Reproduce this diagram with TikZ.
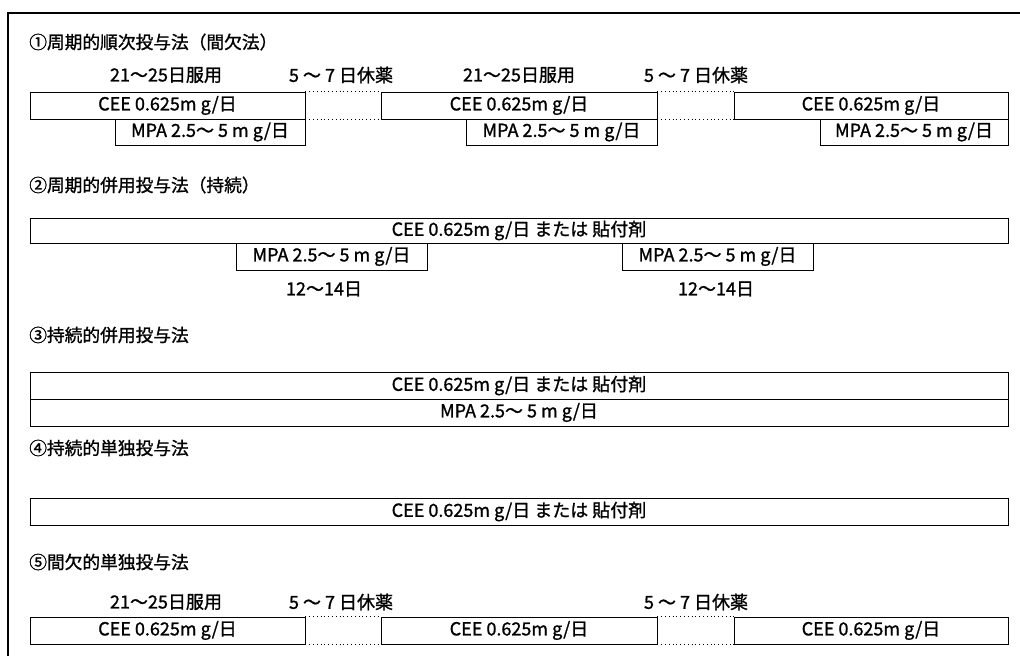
\documentclass[tikz,border=0pt]{standalone}
\usepackage{fontspec}
\setmainfont{Noto Sans CJK JP}[FakeBold=1.2]
\def\u{0.025cm}
\tikzset{
  box/.style={draw, line width=0.7pt, inner sep=0pt, font=\fontsize{12.8}{14}\selectfont},
  lbl/.style={inner sep=0pt, font=\fontsize{12.8}{14}\selectfont},
  ttl/.style={inner sep=0pt, anchor=west, font=\fontsize{12.6}{14}\selectfont},
  gap/.style={dotted, line width=0.7pt},
  frame/.style={line width=1.1pt}
}
\newcommand{\Dbox}[6]{\node[box, minimum width={(#4-#2)*\u}, minimum height={(#5-#3)*\u}] (#1) at ({(#2+#4)/2},{(#3+#5)/2}) {#6};}
\begin{document}
\begin{tikzpicture}[x=\u, y=-\u]
\useasboundingbox (0,0) rectangle (1020,656);
% frame (open to right and bottom)
\coordinate (f1) at (1020,13);
\coordinate (f2) at (8,13);
\coordinate (f3) at (8,656);
\draw[frame] (f1) -- (f2) -- (f3);

% ---- section 1
\node[ttl] (t1) at (29,42) {①周期的順次投与法（間欠法）};
\node[lbl] (l1a) at (166,75) {21〜25日服用};
\node[lbl] (l1b) at (341,75) {5 〜 7 日休薬};
\node[lbl] (l1c) at (519,75) {21〜25日服用};
\node[lbl] (l1d) at (696,75) {5 〜 7 日休薬};
\Dbox{c1a}{30}{92}{305}{119}{CEE 0.625m g/日}
\Dbox{m1a}{115}{119}{305}{145}{MPA 2.5〜 5 m g/日}
\Dbox{c1b}{381}{92}{657}{119}{CEE 0.625m g/日}
\Dbox{m1b}{466}{119}{657}{145}{MPA 2.5〜 5 m g/日}
\Dbox{c1c}{734}{92}{1008}{119}{CEE 0.625m g/日}
\Dbox{m1c}{820}{119}{1008}{145}{MPA 2.5〜 5 m g/日}
\draw[gap] (c1a.north east) -- (c1b.north west);
\draw[gap] (c1a.south east) -- (c1b.south west);
\draw[gap] (c1b.north east) -- (c1c.north west);
\draw[gap] (c1b.south east) -- (c1c.south west);

% ---- section 2
\node[ttl] (t2) at (29,185) {②周期的併用投与法（持続）};
\Dbox{c2}{30}{218}{1008}{243}{CEE 0.625m g/日 または 貼付剤}
\Dbox{m2a}{236}{243}{427}{270}{MPA 2.5〜 5 m g/日}
\Dbox{m2b}{622}{243}{813}{270}{MPA 2.5〜 5 m g/日}
\node[lbl] (d2a) at (324,289) {12〜14日};
\node[lbl] (d2b) at (716,289) {12〜14日};

% ---- section 3
\node[ttl] (t3) at (29,335) {③持続的併用投与法};
\Dbox{c3}{30}{372}{1008}{399}{CEE 0.625m g/日 または 貼付剤}
\Dbox{m3}{30}{399}{1008}{426}{MPA 2.5〜 5 m g/日}

% ---- section 4
\node[ttl] (t4) at (29,448) {④持続的単独投与法};
\Dbox{c4}{30}{498}{1008}{525}{CEE 0.625m g/日 または 貼付剤}

% ---- section 5
\node[ttl] (t5) at (29,562) {⑤間欠的単独投与法};
\node[lbl] (l5a) at (166,602) {21〜25日服用};
\node[lbl] (l5b) at (341,602) {5 〜 7 日休薬};
\node[lbl] (l5d) at (696,602) {5 〜 7 日休薬};
\Dbox{c5a}{30}{617}{305}{644}{CEE 0.625m g/日}
\Dbox{c5b}{381}{617}{657}{644}{CEE 0.625m g/日}
\Dbox{c5c}{734}{617}{1008}{644}{CEE 0.625m g/日}
\draw[gap] (c5a.north east) -- (c5b.north west);
\draw[gap] (c5a.south east) -- (c5b.south west);
\draw[gap] (c5b.north east) -- (c5c.north west);
\draw[gap] (c5b.south east) -- (c5c.south west);
\end{tikzpicture}
\end{document}
